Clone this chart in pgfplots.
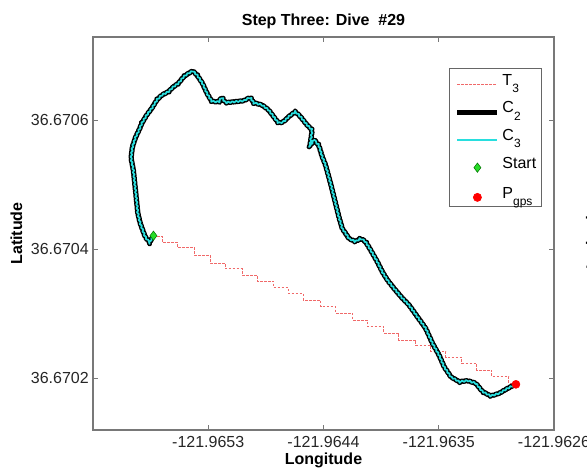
\documentclass[border=0pt]{standalone}
\usepackage{fontspec}
\setmainfont{Liberation Sans}
\usepackage{pgfplots}
\pgfplotsset{compat=1.18}
\usetikzlibrary{decorations.pathmorphing}
\newcommand{\fs}{\fontsize{12}{14}\selectfont}
\newcommand{\sub}[1]{\raisebox{-5.5pt}{\fontsize{9}{9}\selectfont #1}}
\definecolor{axgray}{RGB}{120,120,120}
\definecolor{tred}{RGB}{240,105,105}
\definecolor{ccyan}{RGB}{40,222,222}
\definecolor{sgreen}{RGB}{40,220,40}
% x: longitude offset from -121.96 deg, in units of 1e-4 deg
% y: latitude offset from 36.67 deg, in units of 1e-4 deg
\pgfplotstableread{
x y
-57.28 4.206
-57.59 4.098
-57.93 4.191
-58.32 4.403
-58.50 4.558
-58.66 4.868
-58.85 5.225
-59.03 5.411
-58.92 5.586
-58.66 5.741
-58.40 5.845
-58.19 5.949
-57.80 6.078
-57.41 6.181
-57.01 6.310
-56.62 6.388
-56.11 6.439
-55.72 6.516
-55.32 6.569
-54.93 6.671
-54.54 6.724
-54.20 6.760
-53.88 6.698
-53.45 6.569
-53.10 6.414
-52.71 6.284
-52.19 6.284
-51.93 6.352
-51.67 6.268
-50.89 6.284
-50.24 6.299
-49.71 6.352
-49.46 6.268
-48.80 6.233
-48.28 6.155
-47.89 6.051
-47.50 5.949
-47.11 5.974
-46.72 6.051
-46.19 6.132
-45.80 6.051
-45.28 5.922
-44.88 5.845
-45.07 5.586
-44.76 5.690
-44.37 5.612
-44.10 5.431
-43.84 5.302
-43.45 5.019
-43.06 4.709
-42.80 4.501
-42.54 4.321
-42.02 4.166
-41.50 4.113
-41.10 4.166
-40.71 4.113
-40.32 3.984
-39.80 3.803
-39.41 3.648
-39.01 3.519
-38.50 3.391
-37.84 3.236
-37.32 3.132
-36.67 2.950
-36.02 2.771
-35.49 2.538
-34.98 2.357
-34.58 2.175
-34.06 2.020
-33.41 1.943
-32.75 1.958
-32.10 1.918
-31.58 1.788
-30.93 1.721
-30.28 1.763
-29.62 1.840
-29.11 1.891
}\ctrack
\pgfplotstableread{
x y
-57.30 4.202
-56.60 4.109
-55.43 4.031
-54.10 3.907
-52.84 3.783
-51.67 3.698
-50.34 3.597
-49.17 3.504
-47.91 3.403
-46.74 3.310
-45.57 3.209
-44.23 3.109
-43.06 3.008
-41.73 2.899
-40.56 2.798
-39.30 2.698
-38.13 2.589
-36.80 2.504
-35.63 2.411
-34.45 2.318
-33.20 2.225
-32.03 2.124
-30.85 2.023
-29.52 1.922
-28.97 1.907
}\ttrack
\begin{document}
\begin{tikzpicture}
\begin{axis}[
  scale only axis, width=345.75pt, height=294.75pt,
  xmin=-62, xmax=-26, ymin=1.194, ymax=7.287,
  xtick={-53,-44,-35,-26}, xticklabels={-121.9653,-121.9644,-121.9635,-121.9626},
  ytick={2,4,6}, yticklabels={36.6702,36.6704,36.6706},
  tick align=inside, major tick length=3.5pt,
  axis line style={axgray, line width=0.8pt},
  every tick/.style={axgray, line width=0.6pt},
  tick label style={font=\fs, text=black!85},
  xticklabel style={anchor=base, yshift=-13pt, inner sep=0pt},
  yticklabel style={anchor=east, xshift=-3pt, inner sep=0pt},
  title={Step Three: Dive\ \ \#29},
  title style={font=\fs\bfseries, at={(0.5,1.0305)}, anchor=base, inner sep=0pt, yshift=-6pt},
  xlabel={Longitude},
  xlabel style={font=\fs\bfseries, at={(0.5,-0.087)}, anchor=base, inner sep=0pt},
  ylabel={Latitude},
  ylabel style={font=\fs\bfseries, at={(-0.154,0.5)}, anchor=base, inner sep=0pt},
  legend style={at={(0.974,0.921)}, anchor=north east, draw=black!60, line width=0.6pt,
    fill=white, font=\fs, inner xsep=4pt, inner ysep=3.5pt, row sep=10.3pt, column sep=2pt,
    nodes={inner sep=0pt, text height=9pt, anchor=base west}},
  legend cell align=left,
  legend image code/.code={\draw[mark repeat=2,mark phase=2,#1] plot coordinates {(0pt,0.5pt) (15pt,0.5pt) (30pt,0.5pt)};},
  czig/.style={decorate, decoration={zigzag, segment length=3pt, amplitude=0.55pt}},
]
\addplot[tred, line width=0.7pt, dash pattern=on 2pt off 1pt, const plot] table[x=x,y=y] {\ttrack};
\addlegendentry{T\sub{3}}
\addlegendimage{black, line width=3.6pt}
\addlegendentry{C\sub{2}}
\addlegendimage{ccyan, line width=1.3pt}
\addlegendentry{C\sub{3}}
\addplot[forget plot, black, line width=3.6pt, line join=round, czig] table[x=x,y=y] {\ctrack};
\addplot[forget plot, ccyan, line width=1.3pt, line join=round, czig] table[x=x,y=y] {\ctrack};
\addplot[only marks, mark=diamond*, mark size=3.5pt, mark options={fill=sgreen, draw=green!45!black, line width=0.4pt}] coordinates {(-57.28,4.206)};
\addlegendentry{Start}
\addplot[only marks, mark=*, mark size=3pt, mark options={fill=red, draw=red}] coordinates {(-28.97,1.902)};
\addlegendentry{P\sub{gps}}
\end{axis}
\node[rotate=90, anchor=base, font=\fs\bfseries] at (378.5pt,144pt) {Latitude};
\pgfresetboundingbox
\path[use as bounding box] (-69.75pt,-33pt) rectangle (370.5pt,322.5pt);
\end{tikzpicture}
\end{document}
